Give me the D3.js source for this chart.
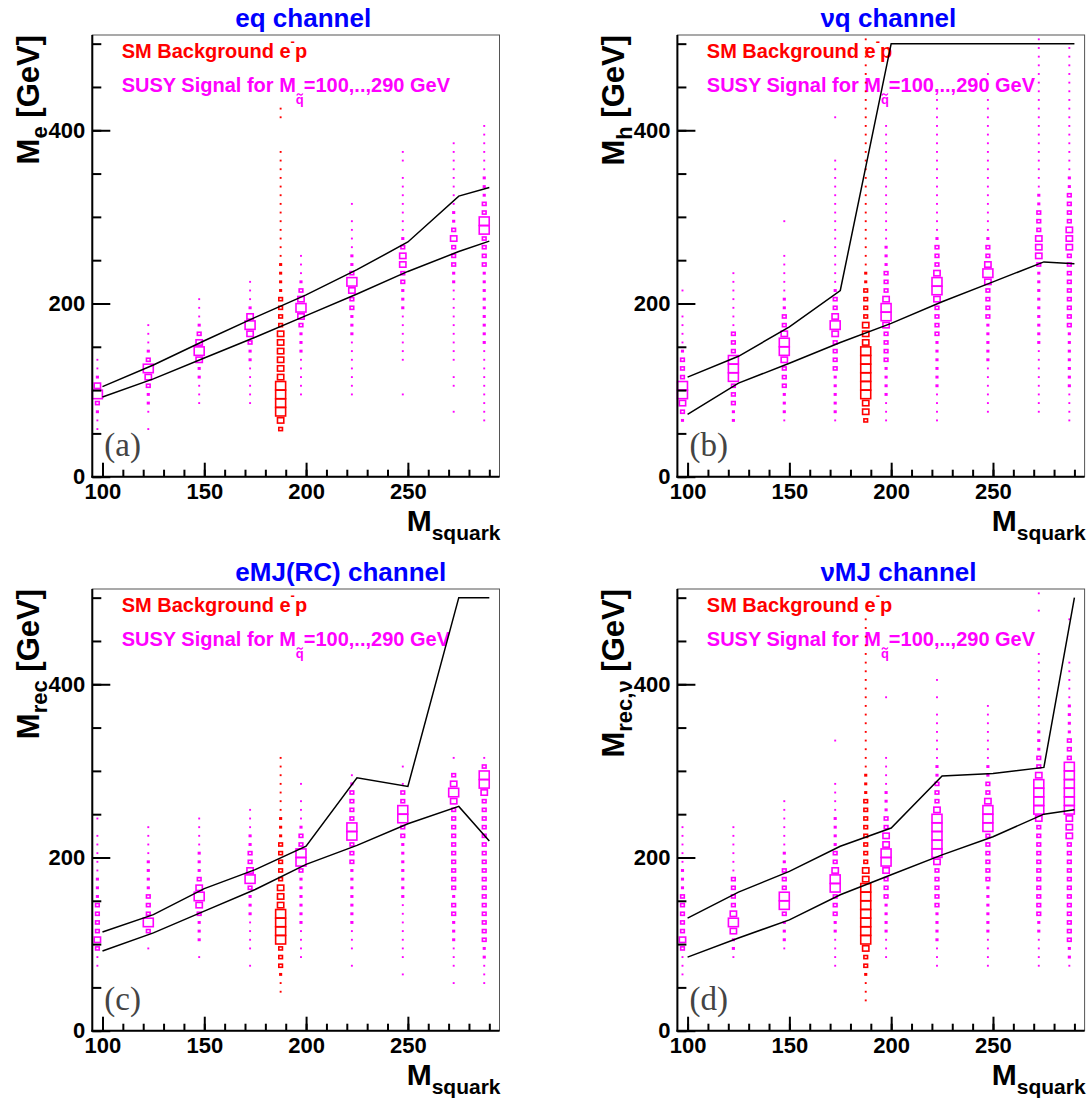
<!DOCTYPE html>
<html><head><meta charset="utf-8">
<script src="https://cdn.jsdelivr.net/npm/d3@7"></script>
<style>body{margin:0;background:#fff}svg{display:block}</style>
</head><body>
<svg id="c" width="1089" height="1098"></svg>
<script>
// ---------------- data ----------------
const squarkMass = [100,125,150,175,200,225,250,275,290];
const signalBins = [97.5,122.5,147.5,172.5,197.5,222.5,247.5,272.5,287.5];
const bkgBin = 187.5;
const xDomain = [95,295];
const yDomain = [0,510];
const xMajorTicks = [100,150,200,250];
const xMinorTicks = [100,110,120,130,140,150,160,170,180,190,200,210,220,230,240,250,260,270,280,290];
const yMajorTicks = [0,200,400];
const yMinorTicks = [0,50,100,150,200,250,300,350,400,450,500];

const panelTitles = ["eq channel","νq channel","eMJ(RC) channel","νMJ channel"];
const yTitleSubs = ["e","h","rec","rec,ν"];
const panelTags = ["(a)","(b)","(c)","(d)"];

// cell contents: [lowest bin centre (GeV), relative box level per 10 GeV bin, 0..5]
const eqSignal = [
 [55,[1,1,2,3,5,4,2,1,1]],
 [55,[1,0,1,2,2,3,4,5,3,2,1,1,1]],
 [85,[1,1,1,2,2,4,5,4,3,2,1,1,1]],
 [85,[1,1,1,1,1,2,2,3,4,5,4,2,1,1,1]],
 [95,[1,1,1,1,1,2,2,2,3,4,5,4,3,2,1,1,1]],
 [95,[1,1,1,1,1,1,1,2,2,2,3,3,4,5,3,2,2,1,1,1,1,0,1]],
 [95,[1,0,0,0,1,1,1,1,1,1,2,2,2,3,3,4,4,3,2,1,1,1,1,1,1,1,0,1,1]],
 [75,[1,0,0,1,1,0,1,1,1,1,1,1,1,1,1,2,2,3,3,3,4,3,2,2,1,1,1,1,1,1,1,1]],
 [65,[1,1,1,1,1,1,1,1,1,2,2,2,2,2,2,2,2,2,3,3,3,3,5,5,3,3,2,2,2,1,1,1,1,1,1]]
];
const eqBkg = [55,[3,4,5,5,5,5,4,4,4,4,4,4,3,3,3,3,2,2,2,2,1,1,1,1,1,1,1,1,1,1,1,1,1,0,0,0,1,1]];
const eqUpper = [104,129,157,184,210,239,271,324,334];
const eqLower = [92,113,137,161,186,211,237,260,272];

const nuqSignal = [
 [65,[2,3,4,5,5,3,3,3,2,1,1,1,1,0,0,1]],
 [65,[2,2,3,3,3,5,5,5,3,3,3,1,1,1,1,1,1,1]],
 [65,[1,2,2,2,3,3,3,4,5,5,4,3,3,2,2,1,1,1,1,1,0,0,0,1]],
 [65,[1,2,2,2,2,2,3,3,3,3,4,5,4,3,3,2,1,1,1,1,1,1,1,1,1,1,1,1,1,1,1,0,0,0,0,1]],
 [65,[1,1,1,2,2,2,2,3,3,3,3,4,5,5,4,3,3,3,2,2,2,1,1,1,1,1,1,1,1,1,1,1,1,1,1]],
 [65,[1,1,1,1,2,2,2,2,2,2,3,3,3,3,4,5,5,4,3,3,3,2,1,1,1,1,1,1,1,1,1,1,1,1,1,1,1,1]],
 [75,[1,1,1,1,1,1,2,2,2,2,2,3,3,3,3,4,5,4,3,3,2,1,1,1,1,1,1,1,1,1,1,1,1,1,1,1,1,0,0,1]],
 [75,[1,1,1,1,1,1,1,1,2,2,2,2,2,2,2,2,2,3,4,4,4,3,3,3,2,2,1,1,1,1,1,1,1,1,1,1,1,1,1,1,1,1,1,1]],
 [65,[1,1,1,1,2,2,2,2,2,2,2,3,3,3,3,3,3,3,3,3,4,4,4,3,3,3,3,2,2,1,1,1,1,1,1,1,1,1,1,1,1,1,1,1]]
];
const nuqBkg = [65,[3,4,4,5,5,5,5,5,5,4,4,4,3,3,3,3,2,2,1,1,1,1,1,1,1,1,1,1,1,1,1,1,1,1,1,1,1,1,1,1,1,1,1,1,1]];
const nuqUpper = [115,139,173,215,500,500,500,500,500];
const nuqLower = [72,108,131,155,177,202,225,248,246];

const emjSignal = [
 [75,[1,1,3,4,3,3,3,3,2,2,2,1,1,1,1,1,0,1]],
 [95,[1,0,3,5,3,3,3,2,2,2,2,1,1,1,1]],
 [85,[1,0,2,2,2,3,4,5,4,3,2,2,2,1,1,1,1]],
 [75,[1,0,1,1,1,1,2,2,2,3,5,4,3,3,2,2,1,1,1]],
 [85,[1,1,1,1,2,2,2,2,2,2,3,5,5,3,3,2,1,1,1,0,1]],
 [75,[1,0,1,1,1,2,2,2,2,2,2,2,3,3,3,5,5,3,3,3,3,2,1]],
 [65,[1,0,1,1,1,1,1,1,1,2,2,2,2,2,2,2,3,3,5,5,3,3,1,0,1]],
 [55,[1,0,1,1,1,2,2,2,3,3,2,3,3,3,3,3,3,3,3,3,3,4,5,4,3,0,1]],
 [55,[1,1,1,2,2,3,3,3,3,3,3,3,3,3,3,3,3,3,3,3,3,3,4,5,5,3,1]]
];
const emjBkg = [45,[1,1,2,3,3,3,5,5,5,5,4,4,4,3,3,3,3,3,2,2,2,1,1,1,1,1,1,1]];
const emjUpper = [114,134,164,186,213,292,282,500,500];
const emjLower = [92,113,138,163,192,214,239,259,219];

const numjSignal = [
 [65,[1,1,1,3,4,3,3,3,3,3,2,2,2,1,1,1,1,1]],
 [85,[1,2,2,4,5,4,3,3,3,3,1,1,1,1,1,1]],
 [95,[1,2,2,2,3,5,5,3,3,3,2,2,1,1,1,1,1,1]],
 [75,[1,1,1,1,2,2,3,3,3,5,5,4,3,3,2,2,2,2,1,1,1,1,0,0,0,0,1]],
 [85,[1,1,1,2,2,2,2,3,3,3,4,5,5,4,4,3,3,2,2,2,1,1,1,1,0,0,0,0,0,0,1]],
 [75,[1,1,1,2,2,2,2,3,3,3,3,3,4,5,5,5,5,5,4,3,3,3,2,2,1,1,1,1,1,1,0,1,0,1]],
 [75,[1,1,1,1,2,2,2,2,2,2,3,3,3,3,3,3,5,5,5,4,3,3,2,2,1,1,1,1,1,1,1]],
 [75,[1,1,1,1,2,2,3,3,3,3,3,3,3,3,3,3,3,4,5,5,5,5,4,3,3,2,2,2,1,1,1,1,1,1,1,1,1,0,0,0,0,1,0,1]],
 [75,[1,2,2,3,3,3,3,3,3,3,3,3,3,3,3,4,4,4,5,5,5,5,5,5,3,3,3,2,2,2,2,1,1,1,1,1,0,0,0,0,1]]
];
const numjBkg = [35,[1,1,1,2,3,3,4,5,5,5,5,5,5,5,4,4,3,3,3,3,3,3,3,3,2,2,2,1,1,1,1,1,1,1,1,1,1,1,1,1,1,1,1,1,1]];
const numjUpper = [130,160,184,213,234,294,297,304,500];
const numjLower = [85,107,128,157,180,203,224,250,255];

const panelData = [
 {sig:eqSignal, bkg:eqBkg, up:eqUpper, lo:eqLower},
 {sig:nuqSignal, bkg:nuqBkg, up:nuqUpper, lo:nuqLower},
 {sig:emjSignal, bkg:emjBkg, up:emjUpper, lo:emjLower},
 {sig:numjSignal, bkg:numjBkg, up:numjUpper, lo:numjLower}
];

// ---------------- layout / style ----------------
const layout = [
 {l:92.3, t:35,  r:499.5, b:476.7},
 {l:677.4,t:35,  r:1084.6,b:476.7},
 {l:92.3, t:589, r:499.5, b:1030.7},
 {l:677.4,t:589, r:1084.6,b:1030.7}
];
const FONT = "'Liberation Sans', Arial, Helvetica, sans-serif";
const levelRatio = [0, 0.03, 0.15, 0.36, 0.62, 0.98];
const xBinW = 5, yBinW = 10;
const MAG = "#ff00ff", RED = "#ff0000";

const svg = d3.select('#c');

function drawColumn(g, x, y, xc, col, color) {
  const lo = col[0], levels = col[1];
  levels.forEach((lv, i) => {
    if (!lv) return;
    const yc = lo + yBinW * i;
    const r = levelRatio[lv];
    const w = (x(xc + xBinW/2) - x(xc - xBinW/2)) * r;
    const h = (y(yc - yBinW/2) - y(yc + yBinW/2)) * r;
    g.append('rect')
      .attr('x', x(xc) - w/2).attr('y', y(yc) - h/2)
      .attr('width', w).attr('height', h)
      .attr('fill', lv <= 2 ? color : 'none')
      .attr('stroke', color).attr('stroke-width', 1.6);
  });
}

layout.forEach((f, i) => {
  const d = panelData[i];
  const x = d3.scaleLinear().domain(xDomain).range([f.l, f.r]);
  const y = d3.scaleLinear().domain(yDomain).range([f.b, f.t]);
  const g = svg.append('g');

  // frame
  g.append('rect').attr('x', f.l).attr('y', f.t).attr('width', f.r - f.l).attr('height', f.b - f.t)
    .attr('fill', 'none').attr('stroke', '#555').attr('stroke-width', 1);

  // title
  g.append('text').attr('x', f.l + 143).attr('y', f.t - 8)
    .attr('font-family', FONT).attr('font-weight', 'bold').attr('font-size', 26)
    .attr('fill', '#0000ff').text(panelTitles[i]);

  // legend
  const t1 = g.append('text').attr('x', f.l + 29.4).attr('y', f.t + 23.3)
    .attr('font-family', FONT).attr('font-weight', 'bold').attr('font-size', 20).attr('fill', RED);
  t1.append('tspan').text('SM Background e');
  t1.append('tspan').attr('font-size', 13).attr('dy', -12).attr('dx', 0).text('-');
  t1.append('tspan').attr('dy', 12).attr('dx', 0).text('p');

  const t2 = g.append('text').attr('x', f.l + 29.4).attr('y', f.t + 57)
    .attr('font-family', FONT).attr('font-weight', 'bold').attr('font-size', 20).attr('fill', MAG);
  t2.append('tspan').text('SUSY Signal for M');
  const qs = t2.append('tspan').attr('font-size', 13).attr('dy', 12).attr('dx', 0).text('q');
  t2.append('tspan').attr('dy', -12).attr('dx', 0).text('=100,..,290 GeV');
  // tilde over the subscript q
  const qn = qs.node();
  const p0 = qn.getStartPositionOfChar(0), qw = qn.getComputedTextLength();
  const cx = p0.x + qw / 2, cy = p0.y - 9.5;
  g.append('path')
    .attr('d', `M${cx-3},${cy+1} Q${cx-1.5},${cy-1.6} ${cx},${cy} T${cx+3},${cy-1}`)
    .attr('fill', 'none').attr('stroke', MAG).attr('stroke-width', 1.3);

  // tag
  g.append('text').attr('x', f.l + 12).attr('y', f.b - 21)
    .attr('font-family', "'Liberation Serif', 'Times New Roman', serif").attr('font-size', 33)
    .attr('fill', '#444').text(panelTags[i]);

  // data boxes
  const gd = g.append('g');
  d.sig.forEach((col, k) => drawColumn(gd, x, y, signalBins[k], col, MAG));
  drawColumn(gd, x, y, bkgBin, d.bkg, RED);

  // bound lines
  const line = d3.line().x((v, k) => x(squarkMass[k])).y(v => y(v));
  [d.up, d.lo].forEach(arr => {
    g.append('path').attr('d', line(arr)).attr('fill', 'none')
      .attr('stroke', '#000').attr('stroke-width', 1.5);
  });

  // axes
  const styleAxis = sel => {
    sel.select('.domain').remove();
    sel.selectAll('.tick line').attr('stroke', '#000').attr('stroke-width', 2);
    sel.attr('font-family', FONT).attr('font-weight', 'bold').attr('font-size', 22);
    sel.selectAll('.tick text').attr('fill', '#000');
  };
  g.append('g').attr('transform', `translate(0,${f.b})`)
    .call(d3.axisBottom(x).tickValues(xMinorTicks).tickSize(-7).tickFormat('')).call(styleAxis);
  g.append('g').attr('transform', `translate(0,${f.b})`)
    .call(d3.axisBottom(x).tickValues(xMajorTicks).tickSize(-14).tickPadding(7).tickFormat(d3.format('d'))).call(styleAxis);
  g.append('g').attr('transform', `translate(${f.l},0)`)
    .call(d3.axisLeft(y).tickValues(yMinorTicks).tickSize(-9).tickFormat('')).call(styleAxis);
  g.append('g').attr('transform', `translate(${f.l},0)`)
    .call(d3.axisLeft(y).tickValues(yMajorTicks).tickSize(-18).tickPadding(7).tickFormat(d3.format('d'))).call(styleAxis);

  // axis lines
  g.append('line').attr('x1', f.l).attr('x2', f.l).attr('y1', f.t).attr('y2', f.b + 1)
    .attr('stroke', '#000').attr('stroke-width', 2);
  g.append('line').attr('x1', f.l - 1).attr('x2', f.r).attr('y1', f.b).attr('y2', f.b)
    .attr('stroke', '#000').attr('stroke-width', 2);

  // x title
  const xt = g.append('text').attr('x', f.r + 1).attr('y', f.b + 54.3).attr('text-anchor', 'end')
    .attr('font-family', FONT).attr('font-weight', 'bold').attr('font-size', 30).attr('fill', '#000');
  xt.append('tspan').text('M');
  xt.append('tspan').attr('font-size', 21).attr('dy', 9).text('squark');

  // y title
  const yt = g.append('text').attr('transform', `translate(${f.l - 53.3},${f.t}) rotate(-90)`)
    .attr('text-anchor', 'end')
    .attr('font-family', FONT).attr('font-weight', 'bold').attr('font-size', 31).attr('fill', '#000');
  yt.append('tspan').text('M');
  yt.append('tspan').attr('font-size', 22).attr('dy', 8).text(yTitleSubs[i]);
  yt.append('tspan').attr('dy', -8).text(' [GeV]');
});
</script>
</body></html>
